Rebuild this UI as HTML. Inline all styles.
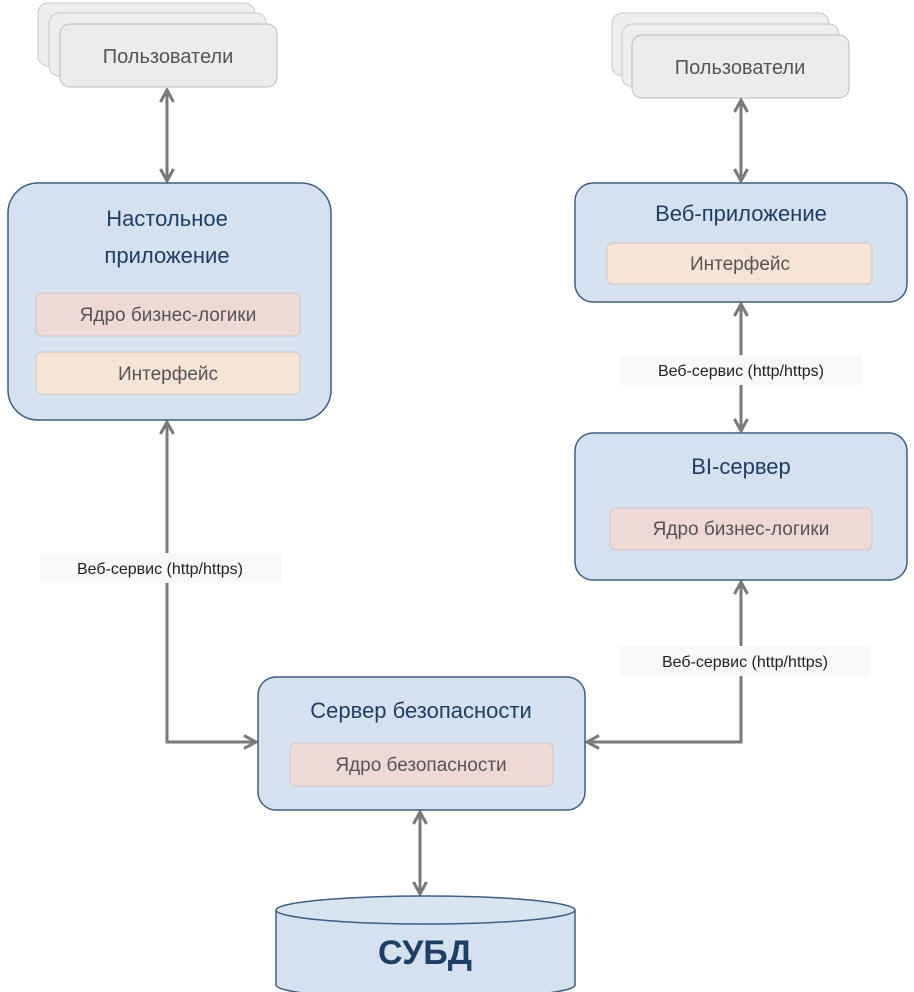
<!DOCTYPE html>
<html><head><meta charset="utf-8"><style>
html,body{margin:0;padding:0;background:#fff;}
svg{display:block;}
text{font-family:"Liberation Sans","DejaVu Sans",sans-serif;}
</style></head><body>
<svg width="914" height="992" viewBox="0 0 914 992" xmlns="http://www.w3.org/2000/svg">
<defs>
<marker id="ah" viewBox="0 0 16 16" refX="14" refY="8" markerWidth="16" markerHeight="16" markerUnits="userSpaceOnUse" orient="auto-start-reverse">
<path d="M2,1.5 L14,8 L2,14.5" fill="none" stroke="#7a7a7a" stroke-width="3"/>
</marker>
</defs>
<!-- Users left -->
<rect x="38" y="3" width="217" height="63" rx="10" fill="#eeeeee" stroke="#c8c8c8"/>
<rect x="49" y="13" width="217" height="63" rx="10" fill="#eeeeee" stroke="#c8c8c8"/>
<rect x="60" y="24" width="217" height="63" rx="10" fill="#ececec" stroke="#bcbcbc"/>
<text x="168" y="63" font-size="20" fill="#555" text-anchor="middle">Пользователи</text>
<!-- Users right -->
<rect x="612" y="13" width="217" height="63" rx="10" fill="#eeeeee" stroke="#c8c8c8"/>
<rect x="622" y="24" width="217" height="63" rx="10" fill="#eeeeee" stroke="#c8c8c8"/>
<rect x="632" y="35" width="217" height="63" rx="10" fill="#ececec" stroke="#bcbcbc"/>
<text x="740" y="74" font-size="20" fill="#555" text-anchor="middle">Пользователи</text>

<g stroke="#7a7a7a" stroke-width="3" fill="none">
<line x1="167" y1="90" x2="167" y2="181" marker-start="url(#ah)" marker-end="url(#ah)"/>
<line x1="741" y1="100" x2="741" y2="181" marker-start="url(#ah)" marker-end="url(#ah)"/>
<line x1="741" y1="304" x2="741" y2="431" marker-start="url(#ah)" marker-end="url(#ah)"/>
<polyline points="167,422 167,742 256,742" marker-start="url(#ah)" marker-end="url(#ah)"/>
<polyline points="741,582 741,742 587,742" marker-start="url(#ah)" marker-end="url(#ah)"/>
<line x1="420" y1="812" x2="420" y2="894" marker-start="url(#ah)" marker-end="url(#ah)"/>
</g>

<!-- Desktop app -->
<rect x="8" y="183" width="323" height="237" rx="30" fill="#d5e1ef" stroke="#3d5f86" stroke-width="1.5"/>
<text x="167" y="226" font-size="22" fill="#1f3e66" text-anchor="middle">Настольное</text>
<text x="167" y="263" font-size="22" fill="#1f3e66" text-anchor="middle">приложение</text>
<rect x="36" y="293" width="264" height="43" rx="6" fill="#efd9d6" stroke="#cfc4c4"/>
<text x="168" y="321" font-size="19" fill="#555" text-anchor="middle">Ядро бизнес-логики</text>
<rect x="36" y="352" width="264" height="42" rx="6" fill="#f6e4d6" stroke="#cfc8c0"/>
<text x="168" y="380" font-size="19" fill="#555" text-anchor="middle">Интерфейс</text>

<!-- Web app -->
<rect x="575" y="183" width="332" height="119" rx="18" fill="#d5e1ef" stroke="#3d5f86" stroke-width="1.5"/>
<text x="741" y="221" font-size="22" fill="#1f3e66" text-anchor="middle">Веб-приложение</text>
<rect x="607" y="243" width="265" height="41" rx="6" fill="#f6e4d6" stroke="#cfc8c0"/>
<text x="740" y="270" font-size="19" fill="#555" text-anchor="middle">Интерфейс</text>

<!-- BI server -->
<rect x="575" y="433" width="332" height="147" rx="18" fill="#d5e1ef" stroke="#3d5f86" stroke-width="1.5"/>
<text x="741" y="474" font-size="22" fill="#1f3e66" text-anchor="middle">BI-сервер</text>
<rect x="610" y="508" width="262" height="42" rx="6" fill="#efd9d6" stroke="#cfc4c4"/>
<text x="741" y="535" font-size="19" fill="#555" text-anchor="middle">Ядро бизнес-логики</text>

<!-- Security server -->
<rect x="258" y="677" width="327" height="133" rx="18" fill="#d5e1ef" stroke="#3d5f86" stroke-width="1.5"/>
<text x="421" y="718" font-size="22" fill="#1f3e66" text-anchor="middle">Сервер безопасности</text>
<rect x="290" y="743" width="263" height="43" rx="6" fill="#efd9d6" stroke="#cfc4c4"/>
<text x="421" y="771" font-size="19" fill="#555" text-anchor="middle">Ядро безопасности</text>

<!-- Labels -->
<rect x="40" y="553" width="242" height="30" fill="#f8f8f8"/>
<text x="160" y="574" font-size="16" fill="#222" text-anchor="middle">Веб-сервис (http/https)</text>
<rect x="620" y="355" width="242" height="30" fill="#f8f8f8"/>
<text x="741" y="376" font-size="16" fill="#222" text-anchor="middle">Веб-сервис (http/https)</text>
<rect x="620" y="646" width="250" height="30" fill="#f8f8f8"/>
<text x="745" y="667" font-size="16" fill="#222" text-anchor="middle">Веб-сервис (http/https)</text>

<!-- DB -->
<path d="M276,910 L276,985 A149.5,14 0 0 0 575,985 L575,910" fill="#d5e1ef" stroke="#3d5f86" stroke-width="1.5"/>
<ellipse cx="425.5" cy="910" rx="149.5" ry="14" fill="#d9e4f1" stroke="#3d5f86" stroke-width="1.5"/>
<text x="425" y="964" font-size="34" font-weight="bold" fill="#1f3e66" text-anchor="middle">СУБД</text>
</svg>
</body></html>
